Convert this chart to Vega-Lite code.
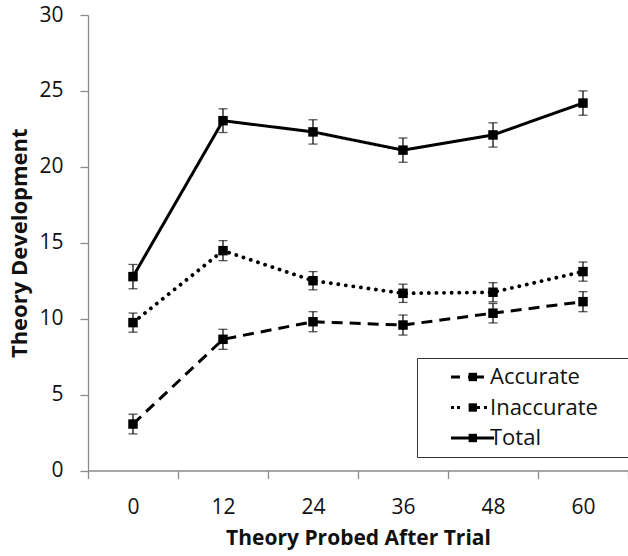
{
  "$schema": "https://vega.github.io/schema/vega-lite/v6.json",
  "width": 540,
  "height": 455.5,
  "autosize": {"type": "none"},
  "padding": {"left": 88, "top": 15, "right": 0, "bottom": 85.5},
  "background": "white",
  "config": {
    "view": {"stroke": null},
    "font": "Open Sans",
    "axis": {"grid": false, "domainColor": "#8a8a8a", "tickColor": "#8a8a8a", "domainWidth": 1.3, "tickWidth": 1.3, "labelColor": "#111", "titleColor": "#111"}
  },
  "data": {
    "values": [
      {"trial": "0", "series": "Total", "value": 12.77, "lo": 11.97, "hi": 13.57},
      {"trial": "12", "series": "Total", "value": 23.04, "lo": 22.26, "hi": 23.82},
      {"trial": "24", "series": "Total", "value": 22.3, "lo": 21.5, "hi": 23.1},
      {"trial": "36", "series": "Total", "value": 21.1, "lo": 20.3, "hi": 21.9},
      {"trial": "48", "series": "Total", "value": 22.1, "lo": 21.3, "hi": 22.9},
      {"trial": "60", "series": "Total", "value": 24.2, "lo": 23.4, "hi": 25.0},
      {"trial": "0", "series": "Inaccurate", "value": 9.74, "lo": 9.11, "hi": 10.37},
      {"trial": "12", "series": "Inaccurate", "value": 14.48, "lo": 13.82, "hi": 15.14},
      {"trial": "24", "series": "Inaccurate", "value": 12.5, "lo": 11.9, "hi": 13.1},
      {"trial": "36", "series": "Inaccurate", "value": 11.67, "lo": 11.07, "hi": 12.27},
      {"trial": "48", "series": "Inaccurate", "value": 11.74, "lo": 11.11, "hi": 12.37},
      {"trial": "60", "series": "Inaccurate", "value": 13.1, "lo": 12.47, "hi": 13.73},
      {"trial": "0", "series": "Accurate", "value": 3.06, "lo": 2.41, "hi": 3.71},
      {"trial": "12", "series": "Accurate", "value": 8.64, "lo": 7.98, "hi": 9.3},
      {"trial": "24", "series": "Accurate", "value": 9.8, "lo": 9.14, "hi": 10.46},
      {"trial": "36", "series": "Accurate", "value": 9.58, "lo": 8.92, "hi": 10.24},
      {"trial": "48", "series": "Accurate", "value": 10.36, "lo": 9.72, "hi": 11.0},
      {"trial": "60", "series": "Accurate", "value": 11.12, "lo": 10.46, "hi": 11.78}
    ]
  },
  "encoding": {
    "x": {
      "field": "trial",
      "type": "ordinal",
      "sort": ["0", "12", "24", "36", "48", "60"],
      "scale": {"type": "band", "paddingInner": 0, "paddingOuter": 0},
      "axis": {
        "title": "Theory Probed After Trial",
        "labelAngle": 0,
        "tickBand": "extent",
        "tickSize": 8,
        "labelFontSize": 21,
        "labelPadding": 18,
        "titleFontSize": 21,
        "titleFontWeight": "bold",
        "titlePadding": 10
      }
    }
  },
  "layer": [
    {
      "mark": {"type": "rule", "color": "#111", "strokeWidth": 1.3},
      "encoding": {
        "y": {"field": "lo", "type": "quantitative", "scale": {"domain": [0, 30], "nice": false}},
        "y2": {"field": "hi"}
      }
    },
    {
      "mark": {"type": "tick", "color": "#111", "size": 9, "thickness": 1.3},
      "encoding": {"y": {"field": "lo", "type": "quantitative"}}
    },
    {
      "mark": {"type": "tick", "color": "#111", "size": 9, "thickness": 1.3},
      "encoding": {"y": {"field": "hi", "type": "quantitative"}}
    },
    {
      "transform": [{"filter": "datum.series === 'Total'"}],
      "mark": {"type": "line", "color": "black", "strokeWidth": 3, "strokeCap": "butt"},
      "encoding": {
        "y": {
          "field": "value",
          "type": "quantitative",
          "scale": {"domain": [0, 30], "nice": false},
          "axis": {
            "title": "Theory Development",
            "values": [0, 5, 10, 15, 20, 25, 30],
            "tickSize": 8,
            "labelFontSize": 21,
            "labelPadding": 17,
            "titleFontSize": 22,
            "titleFontWeight": "bold",
            "titlePadding": 7
          }
        },
        "strokeDash": {
          "field": "series",
          "type": "nominal",
          "scale": {"domain": ["Accurate", "Inaccurate", "Total"], "range": [[9, 8, 16, 20], [3, 3, 3, 17, 3, 4, 3, 20], [1, 0]]},
          "legend": {
            "title": null,
            "orient": "none",
            "legendX": 329,
            "legendY": 343,
            "strokeColor": null,
            "padding": 8,
            "symbolType": "M-4.2,0H4.4",
            "symbolSize": 100,
            "symbolOffset": 36,
            "symbolStrokeWidth": 3,
            "symbolStrokeColor": "black",
            "symbolOpacity": 1,
            "labelOffset": 7,
            "labelFontSize": 22,
            "labelColor": "#111",
            "rowPadding": 8.5
          }
        }
      }
    },
    {
      "transform": [{"filter": "datum.series === 'Accurate'"}],
      "mark": {"type": "line", "color": "black", "strokeWidth": 3, "strokeCap": "butt", "strokeDash": [11, 7]},
      "encoding": {
        "y": {"field": "value", "type": "quantitative"}
      }
    },
    {
      "transform": [{"filter": "datum.series === 'Inaccurate'"}],
      "mark": {"type": "line", "color": "black", "strokeWidth": 3.8, "strokeCap": "round", "strokeDash": [0.1, 7.5]},
      "encoding": {
        "y": {"field": "value", "type": "quantitative"}
      }
    },
    {
      "mark": {"type": "point", "filled": true, "color": "black", "size": 90, "opacity": 1},
      "encoding": {
        "y": {"field": "value", "type": "quantitative"},
        "shape": {
          "field": "series",
          "type": "nominal",
          "scale": {"domain": ["Total", "Inaccurate", "Accurate"], "range": ["square", "square", "square"]},
          "legend": {
            "title": null,
            "values": ["Accurate", "Inaccurate", "Total"],
            "orient": "none",
            "legendX": 329,
            "legendY": 343,
            "strokeColor": "#333",
            "padding": 8,
            "symbolSize": 70,
            "symbolOffset": 36.8,
            "symbolFillColor": "black",
            "symbolStrokeWidth": 0,
            "symbolOpacity": 1,
            "labelOffset": 30,
            "labelFontSize": 22,
            "labelColor": "transparent",
            "rowPadding": 8.5
          }
        }
      }
    }
  ]
}
